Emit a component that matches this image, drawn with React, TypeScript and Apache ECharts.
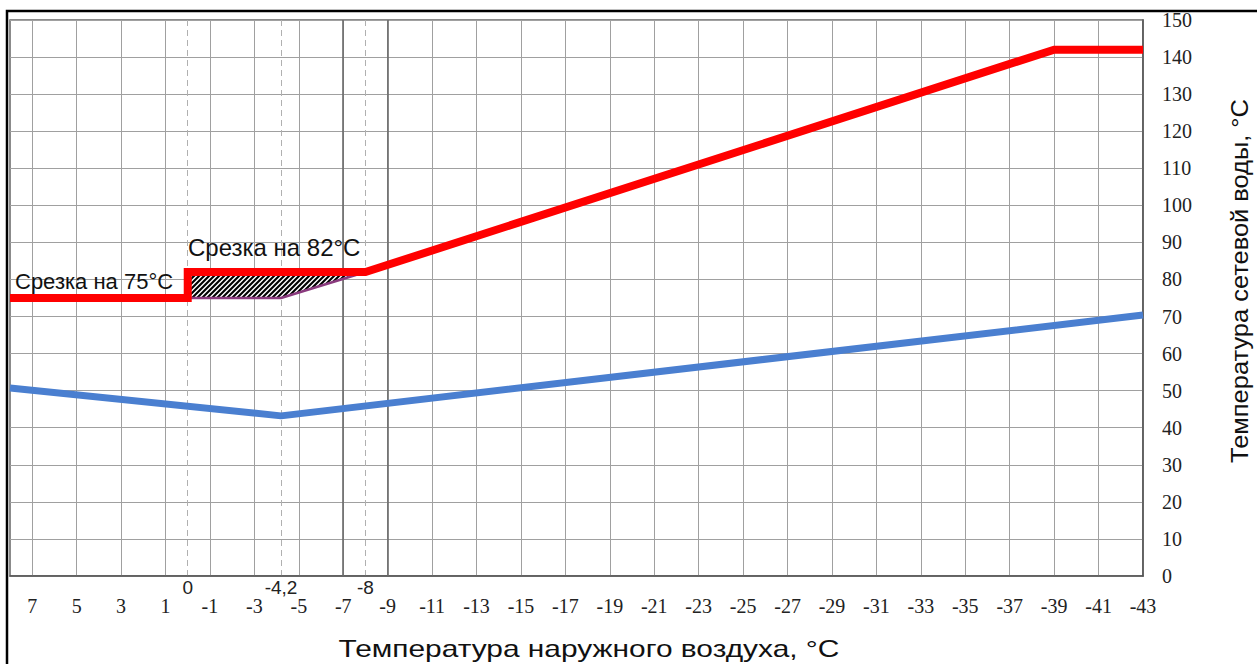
import React, { useEffect, useRef } from "react";
import * as echarts from "echarts";

// ---- data ----
const xTickValues = [7, 5, 3, 1, -1, -3, -5, -7, -9, -11, -13, -15, -17, -19, -21, -23, -25, -27, -29, -31, -33, -35, -37, -39, -41, -43];
const refTickValues = [0, -4.2, -8];
const strongGridX = [-7, -9];
const xMin = -43;
const xMax = 8;
const yMin = 0;
const yMax = 150;
const yStep = 10;

const supplyX = [8, 0, 0, -8, -39, -43];
const supplyY = [75, 75, 82, 82, 142, 142];

const returnX = [8, -4.2, -43];
const returnY = [50.7, 43.2, 70.4];

const cutoffX = [0, -4.2, -8];
const cutoffY = [75, 75, 82];

const hatchX = [0, -4.2, -8, 0];
const hatchY = [75, 75, 82, 82];

const labelCut75 = "Срезка на 75°C";
const labelCut82 = "Срезка на 82°C";
const xTitle = "Температура наружного воздуха, °С";
const yTitle = "Температура сетевой воды, °С";

const SANS = "'Liberation Sans', Arial, sans-serif";
const SERIF = "'Liberation Serif', 'Times New Roman', serif";

function makeHatch(): HTMLCanvasElement {
  const s = 5;
  const c = document.createElement("canvas");
  c.width = s;
  c.height = s;
  const g = c.getContext("2d")!;
  g.fillStyle = "#fff";
  g.fillRect(0, 0, s, s);
  g.strokeStyle = "#000";
  g.lineWidth = 2.1;
  g.beginPath();
  g.moveTo(0, s);
  g.lineTo(s, 0);
  g.moveTo(-s, s);
  g.lineTo(s, -s);
  g.moveTo(0, 2 * s);
  g.lineTo(2 * s, 0);
  g.stroke();
  return c;
}

export default function App() {
  const ref = useRef<HTMLDivElement>(null);

  useEffect(() => {
    if (!ref.current) return;
    const chart = echarts.init(ref.current, null, { renderer: "svg" });
    const hatch = makeHatch();

    const pair = (xs: number[], ys: number[]) => xs.map((x, i) => [x, ys[i]]);

    chart.setOption({
      animation: false,
      backgroundColor: "#fff",
      grid: {
        left: 10,
        top: 20,
        right: 114,
        bottom: 88,
        show: true,
        borderColor: "#666",
        borderWidth: 1.5,
        backgroundColor: "#fff",
        outerBoundsMode: "none",
      },
      xAxis: [
        {
          type: "value",
          inverse: true,
          min: xMin,
          max: xMax,
          position: "bottom",
          axisLine: { show: true, onZero: false, lineStyle: { color: "#555", width: 1.5 } },
          axisTick: { show: false, customValues: xTickValues },
          axisLabel: {
            customValues: xTickValues,
            fontFamily: SERIF,
            fontSize: 20,
            color: "#222",
            margin: 20,
          },
          splitLine: { show: true, lineStyle: { color: "#a0a0a0", width: 1 } },
        },
        {
          type: "value",
          inverse: true,
          min: xMin,
          max: xMax,
          position: "bottom",
          axisLine: { show: false, onZero: false },
          axisTick: { show: false, customValues: refTickValues },
          axisLabel: {
            customValues: refTickValues,
            fontFamily: SANS,
            fontSize: 19,
            color: "#222",
            margin: 2,
            formatter: (v: number) => String(v).replace(".", ","),
          },
          splitLine: { show: true, lineStyle: { color: "#b0b0b0", width: 1, type: [6, 4] } },
        },
      ],
      yAxis: {
        type: "value",
        position: "right",
        min: yMin,
        max: yMax,
        interval: yStep,
        axisLine: { show: true, onZero: false, lineStyle: { color: "#555", width: 1.5 } },
        axisTick: { show: false },
        axisLabel: { fontFamily: SERIF, fontSize: 20, color: "#222", margin: 19 },
        splitLine: { show: true, lineStyle: { color: "#a0a0a0", width: 1 } },
      },
      series: [
        {
          type: "custom",
          name: "hatch",
          xAxisIndex: 0,
          data: pair(hatchX, hatchY),
          silent: true,
          z: 3,
          renderItem: (params: any, api: any) => {
            if (params.dataIndex !== 0) return null;
            const pts = hatchX.map((x, i) => api.coord([x, hatchY[i]]));
            return {
              type: "polygon",
              shape: { points: pts },
              style: {
                fill: { image: hatch, repeat: "repeat", imageWidth: 5, imageHeight: 5 },
                stroke: null,
              },
            };
          },
        },
        {
          type: "line",
          name: "cutoff",
          data: pair(cutoffX, cutoffY),
          showSymbol: false,
          symbol: "none",
          z: 4,
          lineStyle: { color: "#8a3a7e", width: 2.5 },
        },
        {
          type: "line",
          name: "return",
          data: pair(returnX, returnY),
          showSymbol: false,
          symbol: "none",
          z: 5,
          lineStyle: { color: "#4a7fd0", width: 7 },
          markLine: {
            silent: true,
            symbol: "none",
            label: { show: false },
            lineStyle: { color: "#6a6a6a", width: 1.6, type: "solid" },
            data: strongGridX.map((x) => ({ xAxis: x })),
            z: 1,
          },
        },
        {
          type: "line",
          name: "supply",
          data: pair(supplyX, supplyY),
          showSymbol: false,
          symbol: "none",
          z: 6,
          lineStyle: { color: "#ff0000", width: 8, join: "miter", cap: "butt" },
        },
      ],
      graphic: [
        {
          type: "rect",
          shape: { x: 7, y: 11, width: 1400, height: 800 },
          style: { fill: null, stroke: "#000", lineWidth: 2.5 },
          silent: true,
          z: 100,
        },
        {
          type: "text",
          x: 15,
          y: 281,
          style: { text: labelCut75, font: `22px ${SANS}`, fill: "#111", textAlign: "left", textVerticalAlign: "middle" },
          z: 100,
        },
        {
          type: "text",
          x: 188,
          y: 247,
          style: { text: labelCut82, font: `24px ${SANS}`, fill: "#111", textAlign: "left", textVerticalAlign: "middle" },
          z: 100,
        },
        {
          type: "text",
          x: 589,
          y: 649,
          scaleX: 1.3,
          style: { text: xTitle, font: `23px ${SANS}`, fill: "#111", textAlign: "center", textVerticalAlign: "middle" },
          z: 100,
        },
        {
          type: "text",
          x: 1240,
          y: 281,
          rotation: Math.PI / 2,
          scaleX: 1.06,
          style: { text: yTitle, font: `24px ${SANS}`, fill: "#111", textAlign: "center", textVerticalAlign: "middle" },
          z: 100,
        },
      ],
    });

    return () => chart.dispose();
  }, []);

  return (
    <div
      ref={ref}
      style={{ position: "fixed", left: 0, top: 0, width: 1257, height: 664, background: "#fff" }}
    />
  );
}
